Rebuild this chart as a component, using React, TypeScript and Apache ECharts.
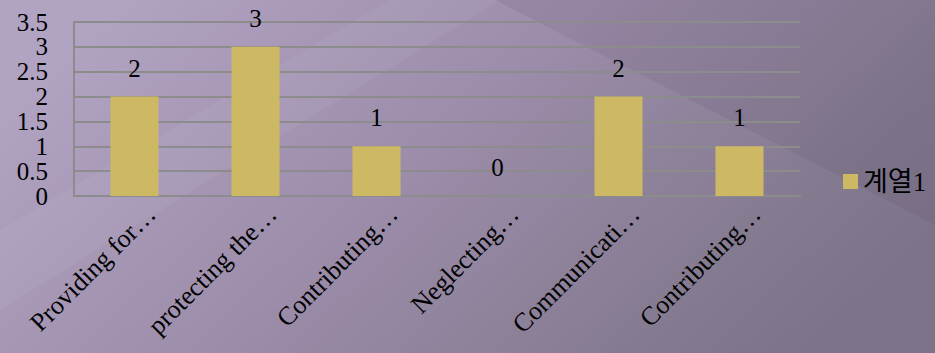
import React, { useEffect, useRef } from "react";
import * as echarts from "echarts";

const categories = [
  "Providing for…",
  "protecting the…",
  "Contributing…",
  "Neglecting…",
  "Communicati…",
  "Contributing…",
];
const seriesName = "계열1";
const values = [2, 3, 1, 0, 2, 1];

const FONT = "'Liberation Serif', 'Noto Sans CJK KR', serif";

export default function App() {
  const ref = useRef<HTMLDivElement>(null);
  useEffect(() => {
    if (!ref.current) return;
    const chart = echarts.init(ref.current, undefined, { renderer: "svg" });
    chart.setOption({
      animation: false,
      backgroundColor: new echarts.graphic.LinearGradient(0, 0.3, 1, 0.7, [
        { offset: 0, color: "#b1a3c2" },
        { offset: 0.45, color: "#9b8ca9" },
        { offset: 0.8, color: "#867c92" },
        { offset: 1, color: "#7d7388" },
      ]),
      graphic: [
        {
          type: "polygon",
          silent: true,
          z: -10,
          shape: { points: [[0, 230], [0, 310], [500, 0], [390, 0]] },
          style: { fill: "rgba(255,255,255,0.05)" },
        },
        {
          type: "polygon",
          silent: true,
          z: -10,
          shape: { points: [[495, 0], [935, 0], [935, 225]] },
          style: { fill: "rgba(40,30,50,0.07)" },
        },
      ],
      textStyle: { fontFamily: FONT, color: "#000" },
      grid: { left: 74, right: 135, top: 22, bottom: 157, containLabel: false },
      legend: {
        data: [seriesName],
        left: 843,
        top: 168,
        padding: 0,
        orient: "vertical",
        icon: "rect",
        itemWidth: 15,
        itemHeight: 15,
        itemGap: 5,
        textStyle: { fontFamily: FONT, fontSize: 27, color: "#000" },
      },
      xAxis: {
        type: "category",
        data: categories,
        axisLine: { show: true, lineStyle: { color: "#8c8c8c", width: 2 } },
        axisTick: { show: false },
        axisLabel: {
          interval: 0,
          rotate: 45,
          margin: -3,
          fontSize: 26,
          lineHeight: 48,
          verticalAlign: "top",
          color: "#000",
          fontFamily: FONT,
        },
      },
      yAxis: {
        type: "value",
        min: 0,
        max: 3.5,
        interval: 0.5,
        axisLine: { show: true, lineStyle: { color: "#8c8c8c", width: 2 } },
        axisTick: { show: false },
        splitLine: { show: true, lineStyle: { color: "#8c8c8c", width: 2 } },
        axisLabel: { margin: 26, fontSize: 25, color: "#000", fontFamily: FONT },
      },
      series: [
        {
          name: seriesName,
          type: "bar",
          data: values,
          barWidth: 48,
          itemStyle: { color: "#cdb964" },
          label: {
            show: true,
            position: "top",
            distance: 16,
            fontSize: 25,
            color: "#000",
            fontFamily: FONT,
          },
        },
      ],
    });
    return () => chart.dispose();
  }, []);
  return (
    <div
      ref={ref}
      style={{ position: "absolute", left: 0, top: 0, width: 935, height: 353 }}
    />
  );
}
